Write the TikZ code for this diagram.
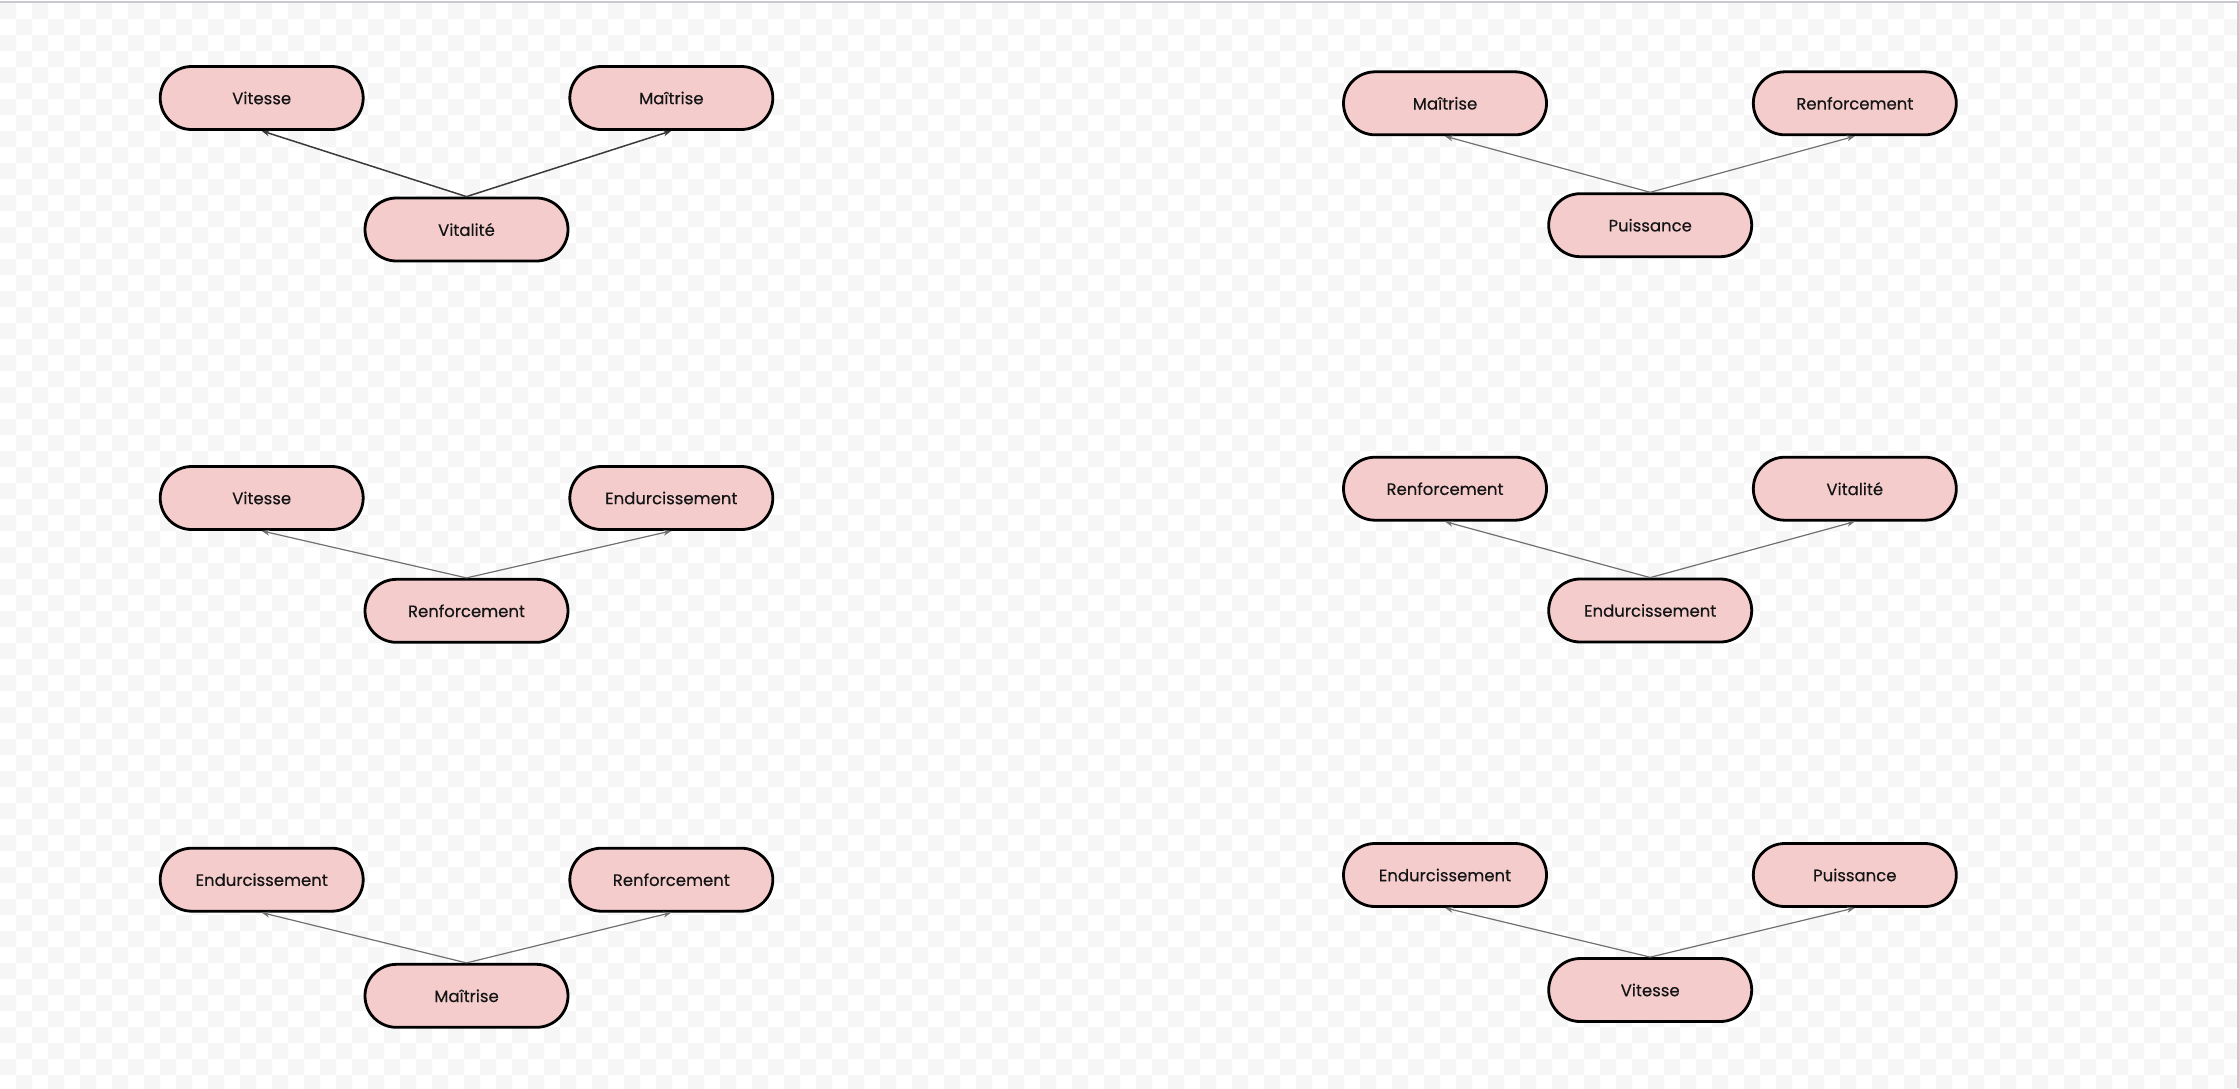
\documentclass[tikz,border=0pt]{standalone}
\usepackage{fontspec}
\setmainfont{Poppins}[FakeBold=0.4]
\usetikzlibrary{arrows.meta}
\definecolor{pillfill}{HTML}{F4CCCC}
\definecolor{checkgray}{HTML}{F6F6F6}
\definecolor{framegray}{HTML}{C8C9CE}
\definecolor{linedark}{HTML}{3A3A3A}
\definecolor{linelight}{HTML}{707070}
\tikzset{
  pill/.style={draw=black, fill=pillfill, line width=2.8pt, rounded corners=31.5pt,
    minimum width=203pt, minimum height=63pt, inner sep=0pt,
    font=\fontsize{16.5pt}{19pt}\selectfont, text=black!92},
  linkdark/.style={draw=linedark, line width=1.5pt, -{Stealth[length=8pt,width=6pt]}},
  linklight/.style={draw=linelight, line width=1.2pt, -{Stealth[length=8pt,width=6pt]}},
}
\begin{document}
\begin{tikzpicture}[x=1pt,y=-1pt]
\useasboundingbox (0,0) rectangle (2239,1088);
\fill[white] (0,0) rectangle (2239,1088);
\fill[checkgray]
  \foreach \j in {0,...,67} {
    \foreach \i in {0,...,69} {
      ({32*\i+16*mod(\j,2)},{3+16*\j}) rectangle ++(16,16)
    }
  };
\draw[framegray, line width=2pt] (0,2) -- (2238,2) -- (2238,1088);

% Group 1
\node[pill] (g1a) at (261.7,98) {Vitesse};
\node[pill] (g1b) at (671.3,98) {Maîtrise};
\node[pill] (g1c) at (466.5,229.5) {Vitalité};
\draw[linkdark] (g1c.north) -- (g1a.south);
\draw[linkdark] (g1c.north) -- (g1b.south);

% Group 2
\node[pill] (g2a) at (1445,103.3) {Maîtrise};
\node[pill] (g2b) at (1854.8,103.3) {Renforcement};
\node[pill] (g2c) at (1650.2,225.2) {Puissance};
\draw[linklight] (g2c.north) -- (g2a.south);
\draw[linklight] (g2c.north) -- (g2b.south);

% Group 3
\node[pill] (g3a) at (261.7,498) {Vitesse};
\node[pill] (g3b) at (671.3,498) {Endurcissement};
\node[pill] (g3c) at (466.5,610.8) {Renforcement};
\draw[linklight] (g3c.north) -- (g3a.south);
\draw[linklight] (g3c.north) -- (g3b.south);

% Group 4
\node[pill] (g4a) at (1445,488.7) {Renforcement};
\node[pill] (g4b) at (1854.8,488.7) {Vitalité};
\node[pill] (g4c) at (1650.2,610.5) {Endurcissement};
\draw[linklight] (g4c.north) -- (g4a.south);
\draw[linklight] (g4c.north) -- (g4b.south);

% Group 5
\node[pill] (g5a) at (261.7,879.7) {Endurcissement};
\node[pill] (g5b) at (671.3,879.7) {Renforcement};
\node[pill] (g5c) at (466.5,995.8) {Maîtrise};
\draw[linklight] (g5c.north) -- (g5a.south);
\draw[linklight] (g5c.north) -- (g5b.south);

% Group 6
\node[pill] (g6a) at (1445,875) {Endurcissement};
\node[pill] (g6b) at (1854.8,875) {Puissance};
\node[pill] (g6c) at (1650.2,990) {Vitesse};
\draw[linklight] (g6c.north) -- (g6a.south);
\draw[linklight] (g6c.north) -- (g6b.south);
\end{tikzpicture}
\end{document}
